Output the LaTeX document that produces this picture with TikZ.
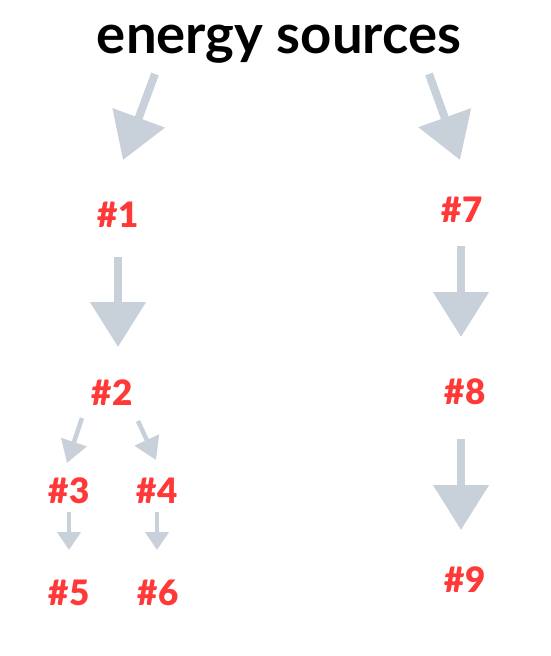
\documentclass[tikz,border=0pt]{standalone}
\usepackage{fontspec}
\setmainfont{Lato}
\newfontfamily\labelfont{Lato Black}
\usepackage{tikz}
\usetikzlibrary{arrows.meta}
\definecolor{arrowgray}{RGB}{200,208,218}
\definecolor{labelred}{RGB}{255,56,56}
\tikzset{title/.style={anchor=base, inner sep=0pt, font=\fontsize{54.5}{60}\selectfont\bfseries}}
\tikzset{label/.style={anchor=base, inner sep=0pt, text=labelred, font=\labelfont\fontsize{35}{38}\selectfont}}
\tikzset{bigarrow/.style={arrowgray, line width=8pt, -{Triangle[width=54pt,length=45pt]}}}
\tikzset{smallarrow/.style={arrowgray, line width=4.5pt, -{Triangle[width=26pt,length=22pt]}}}
\tikzset{tinyarrow/.style={arrowgray, line width=4.5pt, -{Triangle[width=23pt,length=18pt]}}}

\begin{document}
\begin{tikzpicture}
[x=1pt, y=-1pt]
\useasboundingbox (0,0) rectangle (551,656);
%title and the numbered labels
\node (top) at (279,53)[title]{energy sources};
\node (n1) at (118,227)[label]{\#1};
\node (n2) at (112,405)[label]{\#2};
\node (n3) at (69,503)[label]{\#3};
\node (n4) at (157,503)[label]{\#4};
\node (n5) at (69,605)[label]{\#5};
\node (n6) at (158,605)[label]{\#6};
\node (n7) at (462,222)[label]{\#7};
\node (n8) at (465,404)[label]{\#8};
\node (n9) at (465,592)[label]{\#9};
% ends of the arrows
\coordinate (top1) at (155,74);
\coordinate (to1) at (123,160);
\coordinate (top7) at (429,74);
\coordinate (to7) at (460,160);
\coordinate (from1) at (118,257);
\coordinate (to2) at (118,347);
\coordinate (from7) at (461,246);
\coordinate (to8) at (461,337);
\coordinate (from8) at (461,439);
\coordinate (to9) at (461,530);
\coordinate (from2l) at (82,418);
\coordinate (to3) at (67,463);
\coordinate (from2r) at (138,421);
\coordinate (to4) at (156,460);
\coordinate (from3) at (69,512);
\coordinate (to5) at (69,550);
\coordinate (from4) at (157,512);
\coordinate (to6) at (157,550);
\draw[bigarrow] (top1)--(to1);
\draw[bigarrow] (top7)--(to7);
\draw[bigarrow] (from1)--(to2);
\draw[bigarrow] (from7)--(to8);
\draw[bigarrow] (from8)--(to9);
\draw[smallarrow] (from2l)--(to3);
\draw[smallarrow] (from2r)--(to4);
\draw[tinyarrow] (from3)--(to5);
\draw[tinyarrow] (from4)--(to6);
\end{tikzpicture}
\end{document}
